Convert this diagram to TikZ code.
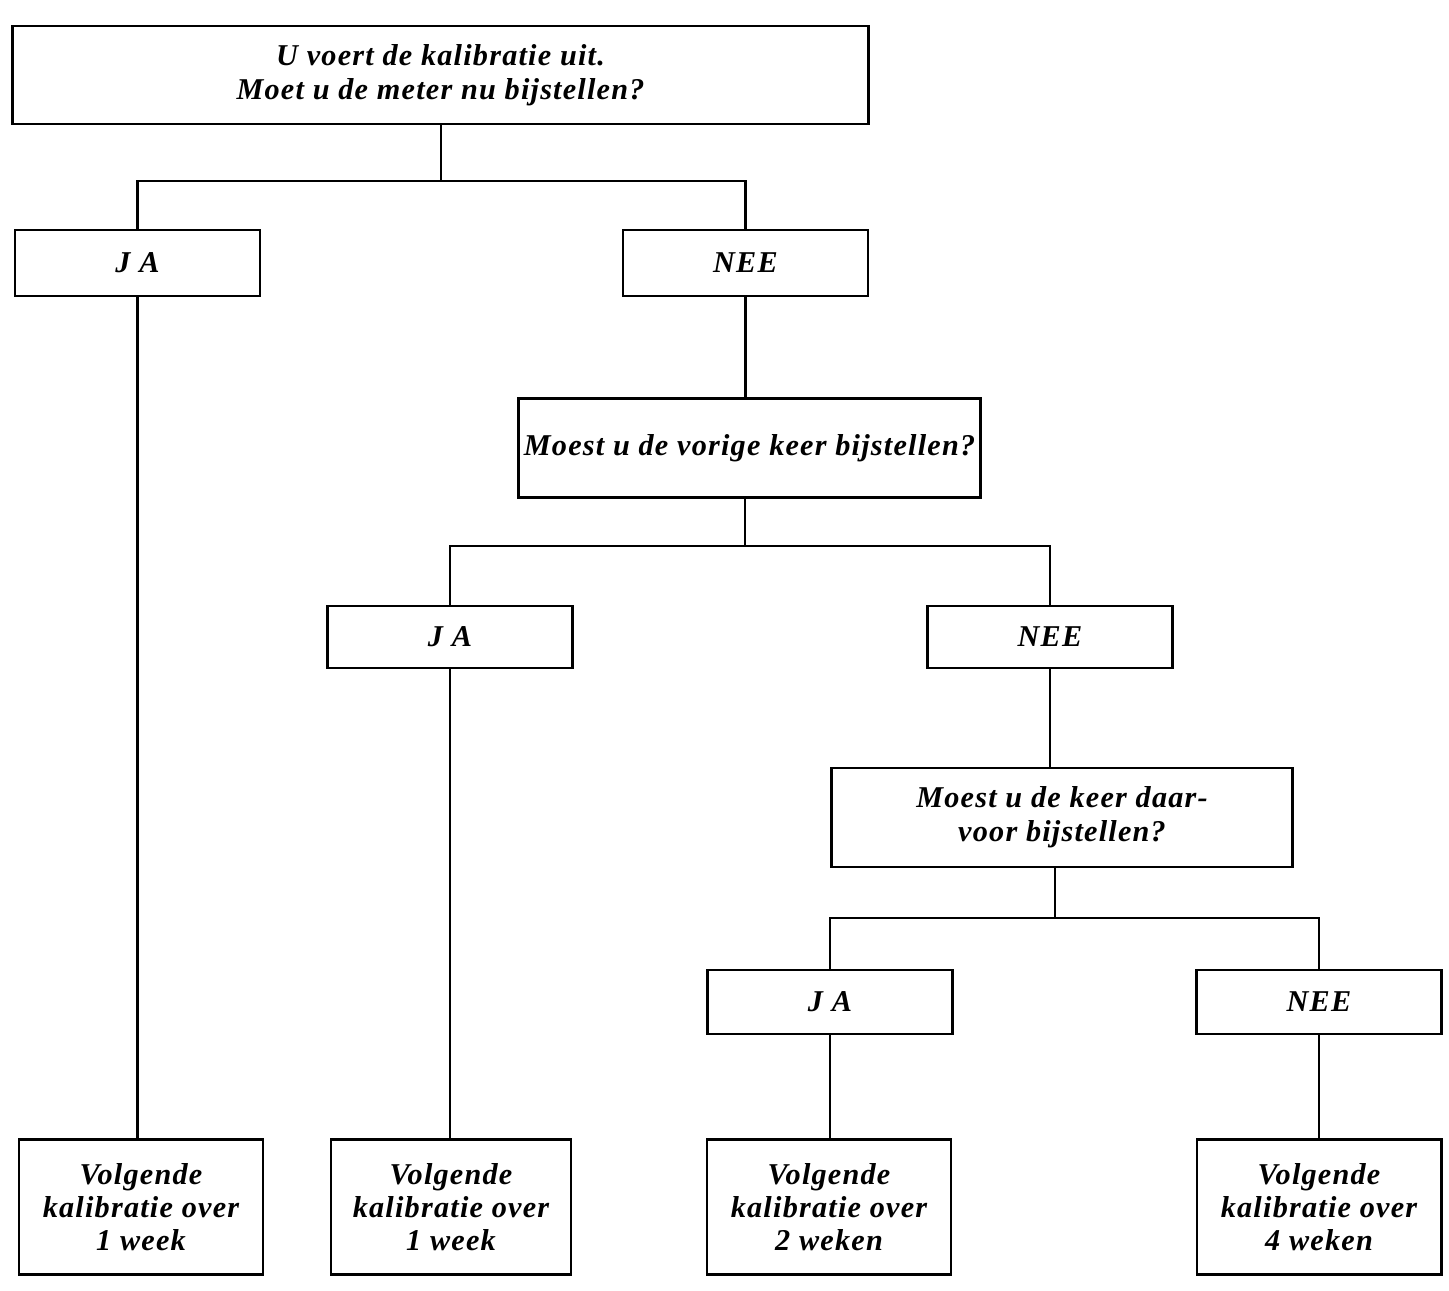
\documentclass[tikz,border=0pt]{standalone}
\usepackage{fontspec}
\setmainfont{Liberation Serif}[LetterSpace=4]
\usetikzlibrary{positioning,calc}
\tikzset{
  vraagbox/.style={draw, line width=0.8pt, align=center, inner xsep=1pt,
    font=\fontsize{8.6}{9.6}\selectfont\bfseries\itshape},
  antwbox/.style={draw, line width=0.8pt, minimum width=2.45cm, minimum height=0.64cm,
    font=\fontsize{8.6}{9.4}\selectfont\bfseries\itshape},
  uitkbox/.style={draw, line width=0.8pt, align=center, minimum width=2.44cm,
    minimum height=1.35cm, font=\fontsize{8.6}{9.4}\selectfont\bfseries\itshape},
  lijn/.style={line width=0.8pt},
}

\begin{document}
\begin{tikzpicture}[x=0.01cm, y=-0.01cm]
    \useasboundingbox (0,0) rectangle (1449,1290);
    % vragen
    \node[vraagbox, minimum width=8.55cm, minimum height=0.98cm] (vraag1) at (440.5,75)
      {U voert de kalibratie uit.\\Moet u de meter nu bijstellen?};
    \node[vraagbox, minimum width=4.61cm, minimum height=0.99cm] (vraag2) at (749.5,448)
      {Moest u de vorige keer bijstellen?};
    \node[vraagbox, minimum width=4.6cm, minimum height=0.99cm] (vraag3) at (1062,817.5)
      {Moest u de keer daar-\\voor bijstellen?};
    % antwoorden
    \node[antwbox, minimum height=0.66cm] (ja1) at (137.5,263) {J A};
    \node[antwbox, minimum height=0.66cm] (nee1) at (745.5,263) {NEE};
    \node[antwbox, minimum height=0.62cm] (ja2) at (450,637) {J A};
    \node[antwbox, minimum height=0.62cm] (nee2) at (1050,637) {NEE};
    \node[antwbox] (ja3) at (830,1002) {J A};
    \node[antwbox] (nee3) at (1319,1002) {NEE};
    % uitkomsten
    \node[uitkbox] (uitk1) at (141,1207) {Volgende\\kalibratie over\\1 week};
    \node[uitkbox, minimum width=2.4cm] (uitk2) at (451,1207) {Volgende\\kalibratie over\\1 week};
    \node[uitkbox] (uitk3) at (829,1207) {Volgende\\kalibratie over\\2 weken};
    \node[uitkbox] (uitk4) at (1319,1207) {Volgende\\kalibratie over\\4 weken};
    % vertakkingen
    \coordinate (tak1) at (441,181);
    \coordinate (tak2) at (745,546);
    \coordinate (tak3) at (1055,918);
    \draw[lijn] (vraag1.south -| tak1) -- (tak1);
    \draw[lijn] (ja1.north) |- (tak1) -| (nee1.north);
    \draw[lijn] (nee1.south) -- (nee1.south |- vraag2.north);
    \draw[lijn] (vraag2.south -| tak2) -- (tak2);
    \draw[lijn] (ja2.north) |- (tak2) -| (nee2.north);
    \draw[lijn] (nee2.south) -- (nee2.south |- vraag3.north);
    \draw[lijn] (vraag3.south -| tak3) -- (tak3);
    \draw[lijn] (ja3.north) |- (tak3) -| (nee3.north);
    \draw[lijn] (ja1.south) -- (ja1.south |- uitk1.north);
    \draw[lijn] (ja2.south) -- (ja2.south |- uitk2.north);
    \draw[lijn] (ja3.south) -- (ja3.south |- uitk3.north);
    \draw[lijn] (nee3.south) -- (nee3.south |- uitk4.north);
\end{tikzpicture}
\end{document}
